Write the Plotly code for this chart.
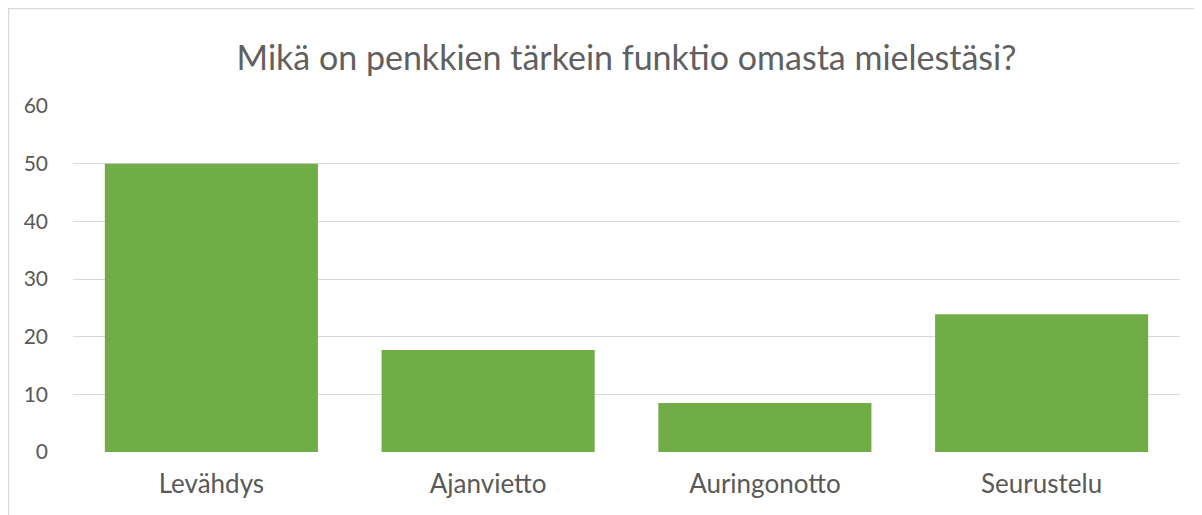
import plotly.graph_objects as go

categories = ["Levähdys", "Ajanvietto", "Auringonotto", "Seurustelu"]
values = [50, 17.7, 8.5, 23.9]
y_ticks = [0, 10, 20, 30, 40, 50, 60]

# page body has an 8px margin; size the figure so it fits the 1202x515 window
OFF = 8
W, H = 1202 - OFF, 515 - OFF
ML, MR, MT, MB = 73 - OFF, 22, 106 - OFF, 63
PW, PH = W - ML - MR, H - MT - MB

def px_to_paper_x(px):
    return (px - ML) / PW

def px_to_paper_y(py):
    return (H - MB - py) / PH

fig = go.Figure(go.Bar(
    x=categories, y=values,
    marker=dict(color="#70ad47", line=dict(width=0)),
    width=0.77,
))

font_fam = "Lato, 'Open Sans', sans-serif"
grey = "#595959"

fig.update_layout(
    width=W, height=H,
    margin=dict(l=ML, r=MR, t=MT, b=MB),
    paper_bgcolor="white", plot_bgcolor="white",
    showlegend=False,
    font=dict(family=font_fam, color=grey),
    title=dict(
        text="Mikä on penkkien tärkein funktio omasta mielestäsi?",
        font=dict(family=font_fam, size=34, color="#606060"),
        x=0.5, xref="paper", xanchor="center",
        y=1 - (58 - OFF) / H, yref="container", yanchor="middle",
    ),
    xaxis=dict(
        showgrid=False, zeroline=False, showline=False,
        tickfont=dict(size=26, color=grey),
        ticks="", ticklabelstandoff=14,
    ),
    yaxis=dict(
        range=[0, 60], tickvals=y_ticks,
        showgrid=True, gridcolor="#d9d9d9", gridwidth=1.3,
        zeroline=False, showline=False,
        tickfont=dict(size=21, color=grey),
        ticks="", ticklabelstandoff=24,
    ),
    shapes=[
        dict(type="line", xref="paper", yref="paper",
             x0=px_to_paper_x(0), x1=px_to_paper_x(W + 5),
             y0=px_to_paper_y(0.5), y1=px_to_paper_y(0.5),
             line=dict(color="#d9d9d9", width=1.5)),
        dict(type="line", xref="paper", yref="paper",
             x0=px_to_paper_x(0.5), x1=px_to_paper_x(0.5),
             y0=px_to_paper_y(0), y1=px_to_paper_y(H + 5),
             line=dict(color="#d9d9d9", width=1.5)),
    ],
)

fig.write_html("out.html")
